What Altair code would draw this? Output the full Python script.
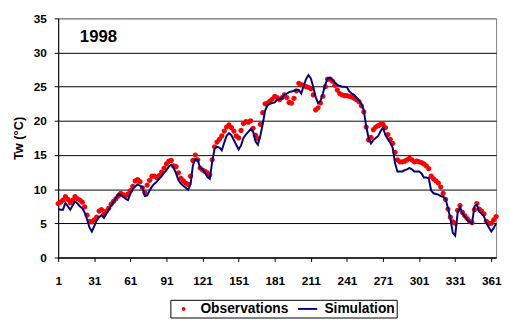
import altair as alt
import pandas as pd

# ---- data (every second day) ----
days = list(range(1, 366, 2))

observations = [
    7.9, 8.1, 8.4, 8.9, 8.5, 8.0, 8.4, 8.9, 8.6, 8.4,
    8.1, 7.4, 6.2, 5.3, 5.2, 5.5, 5.9, 6.8, 7.0, 6.3,
    6.8, 7.2, 7.8, 8.2, 8.6, 9.0, 9.4, 9.2, 9.0, 9.3,
    9.8, 10.4, 11.2, 11.4, 11.1, 10.2, 9.5, 10.6, 11.3, 11.9,
    11.9, 11.7, 12.0, 12.5, 13.1, 13.7, 14.1, 14.2, 13.4, 13.3,
    12.4, 11.6, 11.2, 10.9, 10.7, 11.9, 14.2, 15.0, 14.3, 13.1,
    12.8, 12.6, 12.4, 12.1, 14.3, 16.2, 16.9, 17.3, 17.8, 18.5,
    19.1, 19.4, 19.0, 18.5, 17.8, 17.5, 18.6, 19.6, 19.9, 19.8,
    20.0, 18.9, 17.9, 17.4, 19.5, 21.2, 22.5, 22.6, 22.9, 23.2,
    23.6, 23.4, 23.1, 23.4, 23.8, 23.4, 22.7, 22.6, 23.3, 24.4,
    25.5, 25.3, 25.2, 25.0, 24.9, 24.7, 23.8, 21.6, 21.9, 22.6,
    23.6, 25.0, 26.1, 26.1, 25.8, 25.2, 24.5, 24.0, 23.8, 23.7,
    23.7, 23.6, 23.5, 23.3, 23.1, 22.8, 22.2, 21.3, 19.1, 17.2,
    17.6, 18.7, 19.1, 19.3, 19.5, 19.5, 19.0, 18.0, 17.3, 16.7,
    15.4, 14.3, 14.0, 14.0, 14.1, 14.3, 14.5, 14.3, 14.0, 14.1,
    14.0, 13.9, 13.7, 13.4, 13.0, 11.9, 11.5, 11.2, 10.9, 10.3,
    9.4, 8.5, 7.1, 5.9, 5.2, 5.0, 6.9, 7.6, 6.6, 6.1,
    5.7, 5.3, 5.1, 7.0, 7.9, 7.1, 6.8, 6.4, 5.3, 5.0,
    5.0, 5.5, 6.0,
]

simulation = [
    7.1, 7.0, 7.0, 8.0, 7.5, 7.0, 7.6, 8.2, 7.9, 7.5,
    7.2, 6.6, 5.6, 4.4, 3.8, 4.6, 5.4, 5.9, 6.2, 5.8,
    6.4, 7.0, 7.6, 8.1, 8.7, 9.3, 9.1, 8.9, 8.6, 8.4,
    9.3, 10.0, 10.4, 10.7, 10.5, 10.3, 9.0, 9.1, 9.8, 10.4,
    10.8, 11.1, 11.5, 11.9, 12.4, 12.8, 13.3, 13.6, 13.1, 12.3,
    11.3, 10.8, 10.5, 10.2, 9.9, 10.7, 13.5, 14.4, 14.3, 13.1,
    12.9, 12.4, 11.8, 11.5, 14.0, 15.9, 16.2, 16.1, 15.7, 16.8,
    17.8, 18.2, 17.9, 17.2, 16.5, 15.8, 16.4, 17.5, 18.0, 18.4,
    18.8, 18.4, 17.0, 16.5, 17.8, 19.5, 21.5, 22.3, 22.5, 22.6,
    22.7, 23.1, 23.2, 23.3, 23.8, 24.0, 24.2, 24.3, 24.4, 24.5,
    24.5, 24.0, 25.1, 26.1, 26.7, 26.2, 25.0, 23.5, 22.6, 22.9,
    24.0, 25.3, 26.2, 26.3, 26.0, 25.6, 25.3, 25.1, 25.0, 25.0,
    24.9, 24.3, 24.0, 23.8, 23.4, 23.0, 22.5, 21.6, 19.2, 17.5,
    16.7, 17.2, 17.5, 17.8, 18.5, 19.0, 17.9, 17.3, 16.8, 16.1,
    13.8, 12.6, 12.6, 12.6, 12.8, 12.9, 13.1, 12.9, 12.6, 12.6,
    12.6, 12.3, 11.7, 11.7, 11.6, 9.8, 9.4, 9.3, 9.2, 9.0,
    8.9, 8.6, 7.2, 5.7, 3.6, 3.2, 6.5, 7.4, 6.5, 6.0,
    5.5, 5.2, 5.0, 7.5, 7.7, 6.7, 6.4, 6.0, 5.0, 4.4,
    3.8, 4.3, 5.0,
]

x_ticks = [1, 31, 61, 91, 121, 151, 181, 211, 241, 271, 301, 331, 361]
y_ticks = [0, 5, 10, 15, 20, 25, 30, 35]
series_names = ["Observations", "Simulation"]
series_colors = ["#ff0000", "#000080"]
year_label = ["1998"]
year_pos_day = [19]
year_pos_tw = [32.3]

obs_df = pd.DataFrame({"day": days, "tw": observations, "series": "Observations"})
sim_df = pd.DataFrame({"day": days, "tw": simulation, "series": "Simulation"})
txt_df = pd.DataFrame({"day": year_pos_day, "tw": year_pos_tw, "label": year_label})

FONT = "Liberation Sans"
circle_path = "M -0.25 0 A 0.25 0.25 0 1 0 0.25 0 A 0.25 0.25 0 1 0 -0.25 0 Z"
bar_path = "M -1.3 -0.13 L 1.3 -0.13 L 1.3 0.13 L -1.3 0.13 Z"

x_enc = alt.X(
    "day:Q",
    scale=alt.Scale(domain=[1, 365], nice=False, zero=False),
    axis=alt.Axis(values=x_ticks, title=None, grid=False, labelPadding=14,
                  labelFlush=False, labelOverlap=False),
)
y_enc = alt.Y(
    "tw:Q",
    scale=alt.Scale(domain=[0, 35], nice=False),
    axis=alt.Axis(
        values=y_ticks, title="Tw (°C)", grid=True, labelPadding=8,
        titlePadding=8, titleFontSize=13,
        gridColor={"condition": {"test": "datum.value == 35", "value": "#808080"},
                   "value": "#000000"},
    ),
)

legend = alt.Legend(
    title=None, orient="none", legendX=114, legendY=286, direction="horizontal",
    symbolSize=225, symbolStrokeWidth=0, symbolOffset=4.5, labelOffset=9.5,
    columnPadding=7, padding=1.5, strokeColor="#000000", fillColor="#ffffff",
    labelFont=FONT, labelFontSize=14, labelFontWeight="bold", labelColor="#000000",
    symbolOpacity=1,
)

color_scale = alt.Scale(domain=series_names, range=series_colors)
shape_scale = alt.Scale(domain=series_names, range=[circle_path, bar_path])

line = alt.Chart(sim_df).mark_line(strokeWidth=2).encode(
    x=x_enc, y=y_enc,
    color=alt.Color("series:N", scale=color_scale, legend=legend),
)

points = alt.Chart(obs_df).mark_point(filled=True, size=450, opacity=1).encode(
    x=x_enc, y=y_enc,
    color=alt.Color("series:N", scale=color_scale, legend=legend),
    shape=alt.Shape("series:N", scale=shape_scale, legend=legend),
)

year = alt.Chart(txt_df).mark_text(
    align="left", baseline="middle", font=FONT, fontSize=17, fontWeight="bold", color="#000000"
).encode(x=x_enc, y=y_enc, text="label:N")

chart = (
    alt.layer(points, line, year)
    .properties(
        width=445, height=243,
        background="#ffffff",
        autosize=alt.AutoSizeParams(type="none"),
        padding={"left": 51, "top": 8, "right": 6, "bottom": 62},
    )
    .configure_view(stroke="#808080", strokeWidth=1)
    .configure_axis(
        labelFont=FONT, labelFontSize=12, labelFontWeight="bold", labelColor="#000000",
        titleFont=FONT, titleFontWeight="bold", titleColor="#000000",
        domainColor="#000000", domainWidth=1, tickColor="#000000", tickSize=4,
        gridWidth=1,
    )
)

chart.save("out.html", embed_options={"renderer": "svg", "actions": False})
